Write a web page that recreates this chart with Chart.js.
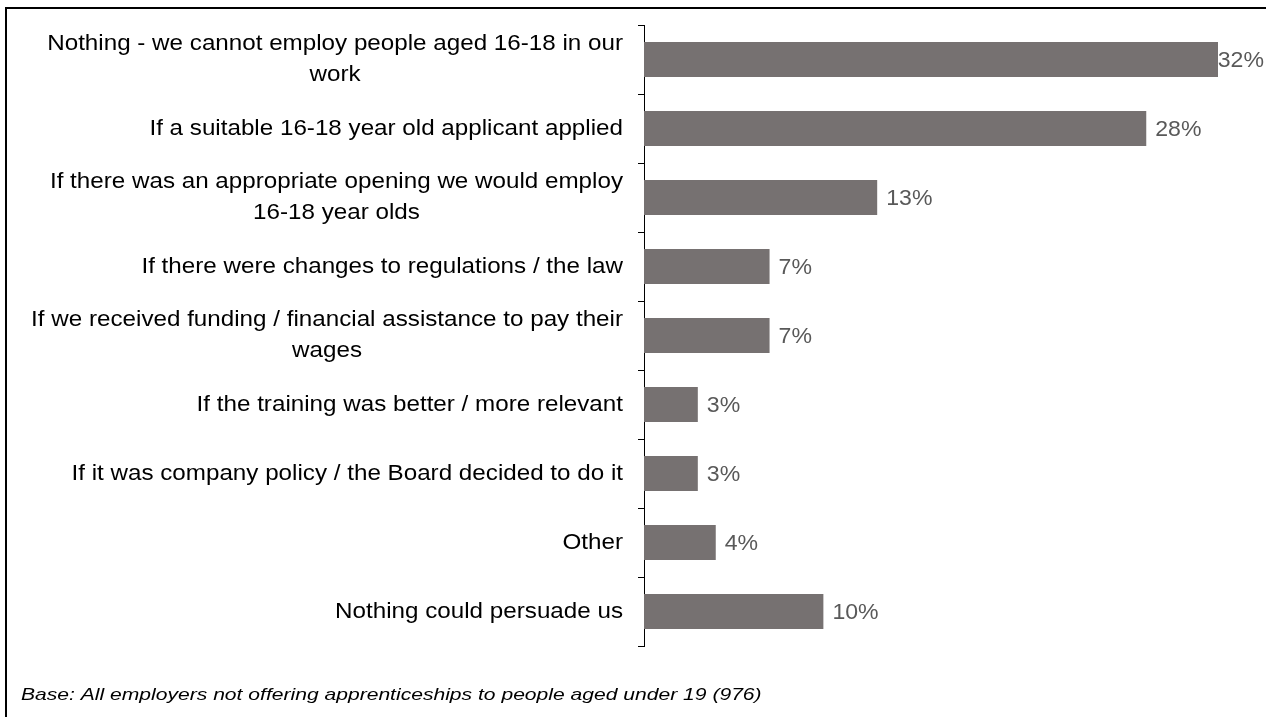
<!DOCTYPE html>
<html>
<head>
<meta charset="utf-8">
<title>Employing 16-18 year olds</title>
<script src="https://cdn.jsdelivr.net/npm/chart.js@4.4.0/dist/chart.umd.min.js"></script>
<style>
  html, body { margin: 0; padding: 0; background: #fff; }
  #box { position: relative; width: 1266px; height: 717px; overflow: hidden; }
  #frame { position: absolute; left: 5px; top: 7px; right: -10px; bottom: -10px;
           border-left: 2px solid #000; border-top: 2px solid #000; }
  canvas { position: absolute; left: 0; top: 0; }
</style>
</head>
<body>
<div id="box">
  <div id="frame"></div>
  <canvas id="chart" width="1266" height="717"></canvas>
</div>
<script>
// answers, top to bottom; arrays are wrapped onto two lines
const categories = [
    ["Nothing - we cannot employ people aged 16-18 in our", "work"],
    "If a suitable 16-18 year old applicant applied",
    ["If there was an appropriate opening we would employ", "16-18 year olds"],
    "If there were changes to regulations / the law",
    ["If we received funding / financial assistance to pay their", "wages"],
    "If the training was better / more relevant",
    "If it was company policy / the Board decided to do it",
    "Other",
    "Nothing could persuade us"
];
const shares = [32, 28, 13, 7, 7, 3, 3, 4, 10];
const footnote = "Base: All employers not offering apprenticeships to people aged under 19 (976)";

const fontFamily = "'Liberation Sans', Arial, sans-serif";
const labelStretch = 1.1;
const lineGap = 31;

// draws text squeezed/stretched horizontally around its anchor point
function drawStretched(ctx, text, x, y, sx) {
    ctx.save();
    ctx.translate(x, y);
    ctx.scale(sx, 1);
    ctx.fillText(text, 0, 0);
    ctx.restore();
}

const categoryLabels = {
    id: "categoryLabels",
    afterDraw(chart) {
        const ctx = chart.ctx;
        const yScale = chart.scales.y;
        const right = chart.chartArea.left - 21;
        ctx.save();
        ctx.font = "22px " + fontFamily;
        ctx.fillStyle = "#000";
        ctx.textAlign = "center";
        ctx.textBaseline = "middle";
        categories.forEach((lab, i) => {
            const lines = Array.isArray(lab) ? lab : [lab];
            const yc = yScale.getPixelForValue(i);
            const widest = Math.max(...lines.map(l => ctx.measureText(l).width)) * labelStretch;
            const cx = right - widest / 2;
            lines.forEach((l, k) => {
                drawStretched(ctx, l, cx, yc + (k - (lines.length - 1) / 2) * lineGap, labelStretch);
            });
        });
        ctx.restore();
    }
};

const valueLabels = {
    id: "valueLabels",
    afterDatasetsDraw(chart) {
        const ctx = chart.ctx;
        const meta = chart.getDatasetMeta(0);
        ctx.save();
        ctx.font = "22px " + fontFamily;
        ctx.fillStyle = "#595959";
        ctx.textAlign = "left";
        ctx.textBaseline = "middle";
        meta.data.forEach((bar, i) => {
            const txt = shares[i] + "%";
            const w = ctx.measureText(txt).width * 1.05;
            const x = Math.min(bar.x + 9, chart.width - w - 2);
            drawStretched(ctx, txt, x, bar.y + 1, 1.05);
        });
        ctx.restore();
    }
};

const footnoteText = {
    id: "footnoteText",
    afterDraw(chart) {
        const ctx = chart.ctx;
        ctx.save();
        ctx.font = "italic 17px " + fontFamily;
        ctx.fillStyle = "#000";
        ctx.textAlign = "left";
        ctx.textBaseline = "alphabetic";
        drawStretched(ctx, footnote, 21, 700, 1.24);
        ctx.restore();
    }
};

new Chart(document.getElementById("chart"), {
    type: "bar",
    data: {
        labels: categories,
        datasets: [{
            data: shares,
            backgroundColor: "#767171",
            borderWidth: 0,
            categoryPercentage: 1,
            barPercentage: 0.507
        }]
    },
    options: {
        indexAxis: "y",
        responsive: false,
        animation: false,
        layout: { padding: { left: 644, right: 48, top: 25, bottom: 71 } },
        plugins: { legend: { display: false }, tooltip: { enabled: false } },
        scales: {
            x: { display: false, min: 0, max: 32 },
            y: {
                offset: true,
                grid: { offset: true, drawOnChartArea: false, drawTicks: true, tickLength: 6, color: "#000", lineWidth: 1 },
                border: { display: true, color: "#000", width: 1 },
                ticks: { display: false },
                afterFit(scale) { scale.width = 0; }
            }
        }
    },
    plugins: [categoryLabels, valueLabels, footnoteText]
});
</script>
</body>
</html>
